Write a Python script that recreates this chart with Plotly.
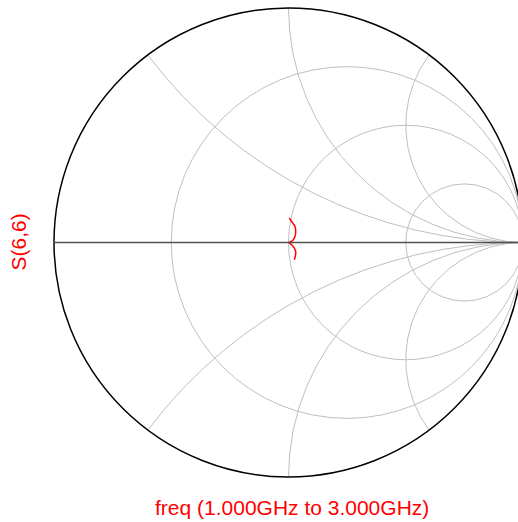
import numpy as np
import plotly.graph_objects as go

# S(6,6) reflection coefficient (1 GHz -> 3 GHz)
gamma_re = [0.0034, 0.0179, 0.0277, 0.0306, 0.0277, 0.0179, 0.0034, 0.0136, 0.0247, 0.0306, 0.0289, 0.0247]
gamma_im = [0.1043, 0.0829, 0.0684, 0.0470, 0.0256, 0.0085, 0.0000, -0.0098, -0.0239, -0.0385, -0.0598, -0.0739]

# Smith grid values
resistance_grid = [1/3, 1, 3]
reactance_grid = [-2, -1, -0.5, 0.5, 1, 2]

trace_name = "S(6,6)"
x_title = "freq (1.000GHz to 3.000GHz)"

g = np.array(gamma_re) + 1j * np.array(gamma_im)
z = (1 + g) / (1 - g)

fig = go.Figure()
fig.add_trace(go.Scattersmith(
    real=z.real, imag=z.imag, mode="lines",
    line=dict(color="red", width=1.5, shape="spline"),
    name=trace_name, showlegend=False, hoverinfo="skip",
))

fig.update_layout(
    width=523, height=522,
    margin=dict(l=54, r=0, t=8, b=45),
    paper_bgcolor="white",
    font=dict(family="Liberation Sans, Arial, sans-serif"),
    smith=dict(
        bgcolor="white",
        domain=dict(x=[0, 1], y=[0, 1]),
        realaxis=dict(
            tickvals=resistance_grid, showticklabels=False, ticks="",
            showgrid=True, gridcolor="#bfbfbf", gridwidth=1,
            showline=True, linecolor="#505050", linewidth=1.5,
        ),
        imaginaryaxis=dict(
            tickvals=reactance_grid, showticklabels=False, ticks="",
            showgrid=True, gridcolor="#bfbfbf", gridwidth=1,
            showline=True, linecolor="black", linewidth=1.5,
        ),
    ),
    annotations=[
        dict(text=x_title, xref="paper", yref="paper", x=0.5064, y=-0.064,
             xanchor="center", yanchor="middle", showarrow=False,
             font=dict(size=21, color="red")),
        dict(text=trace_name, xref="paper", yref="paper", x=-0.0757, y=0.501,
             xanchor="center", yanchor="middle", showarrow=False, textangle=-90,
             font=dict(size=21, color="red")),
    ],
)

fig.write_html(
    "out.html",
    config={"displayModeBar": False},
    post_script="document.body.style.margin='0';"
                "document.body.style.overflow='hidden';"
                "document.documentElement.style.overflow='hidden';",
)
